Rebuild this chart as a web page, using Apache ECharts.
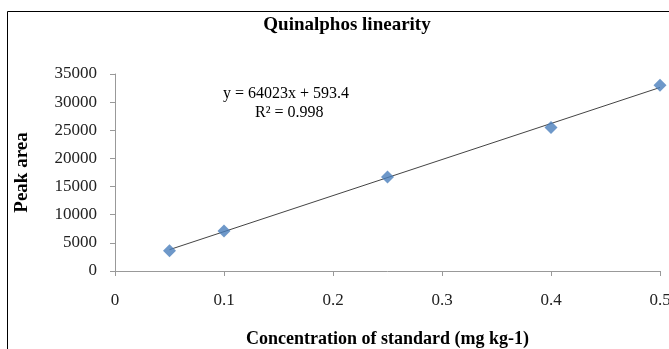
<!DOCTYPE html>
<html><head><meta charset="utf-8">
<script src="https://cdn.jsdelivr.net/npm/echarts@6/dist/echarts.min.js"></script>
<style>html,body{margin:0;padding:0;background:#fff}#c{width:669px;height:349px}</style>
</head><body><div id="c"></div>
<script>
const concentrations = [0.05, 0.1, 0.25, 0.4, 0.5];
const peakAreas = [3600, 7100, 16700, 25500, 33000];
const slope = 64023;
const intercept = 593.4;
const rSquared = '0.998';
const xTicks = [0, 0.1, 0.2, 0.3, 0.4, 0.5];
const yTicks = [0, 5000, 10000, 15000, 20000, 25000, 30000, 35000];

const trendX = [concentrations[0], concentrations[concentrations.length - 1]];
const trend = trendX.map(x => [x, slope * x + intercept]);

const F = '"Liberation Serif","DejaVu Serif",serif';
const chart = echarts.init(document.getElementById('c'));
chart.setOption({
  animation: false,
  backgroundColor: '#fff',
  textStyle: {fontFamily: F},
  title: {
    text: 'Quinalphos linearity', left: 342, top: 11, textAlign: 'center',
    textStyle: {fontFamily: F, fontSize: 19, fontWeight: 'bold', color: '#000'}
  },
  grid: {left: 115, right: 9, top: 74, bottom: 78, outerBoundsMode: 'none', containLabel: false},
  xAxis: {
    type: 'value', min: xTicks[0], max: xTicks[xTicks.length - 1], interval: 0.1,
    name: 'Concentration of standard (mg kg-1)', nameLocation: 'middle', nameGap: 59,
    nameTextStyle: {fontFamily: F, fontSize: 18, fontWeight: 'bold', color: '#000'},
    axisLine: {show: true, lineStyle: {color: '#999'}},
    axisTick: {show: true, length: 5, lineStyle: {color: '#999'}},
    axisLabel: {margin: 21, fontFamily: F, fontSize: 17, color: '#222', formatter: v => String(v)},
    splitLine: {show: false}
  },
  yAxis: {
    type: 'value', min: yTicks[0], max: yTicks[yTicks.length - 1], interval: 5000,
    name: 'Peak area', nameLocation: 'middle', nameGap: 83,
    nameTextStyle: {fontFamily: F, fontSize: 19, fontWeight: 'bold', color: '#000'},
    axisLine: {show: true, lineStyle: {color: '#999'}},
    axisTick: {show: true, length: 5, lineStyle: {color: '#999'}},
    axisLabel: {margin: 18, fontFamily: F, fontSize: 17, color: '#222', formatter: v => String(v)},
    splitLine: {show: false}
  },
  graphic: [
    {type: 'rect', shape: {x: 7.5, y: 11.5, width: 700, height: 400}, style: {fill: 'none', stroke: '#000', lineWidth: 1}, silent: true},
    {type: 'text', left: 223, top: 86, style: {text: 'y = ' + slope + 'x + ' + intercept, font: '16px ' + F, fill: '#000'}},
    {type: 'text', left: 255, top: 105, style: {text: 'R² = ' + rSquared, font: '16px ' + F, fill: '#000'}}
  ],
  series: [
    {type: 'line', data: trend, symbol: 'none', lineStyle: {color: '#444', width: 1}, z: 1},
    {type: 'scatter', data: concentrations.map((x, i) => [x, peakAreas[i]]), symbol: 'diamond', symbolSize: 13,
     itemStyle: {color: '#4A7EBB'}, z: 2}
  ]
});
</script></body></html>
